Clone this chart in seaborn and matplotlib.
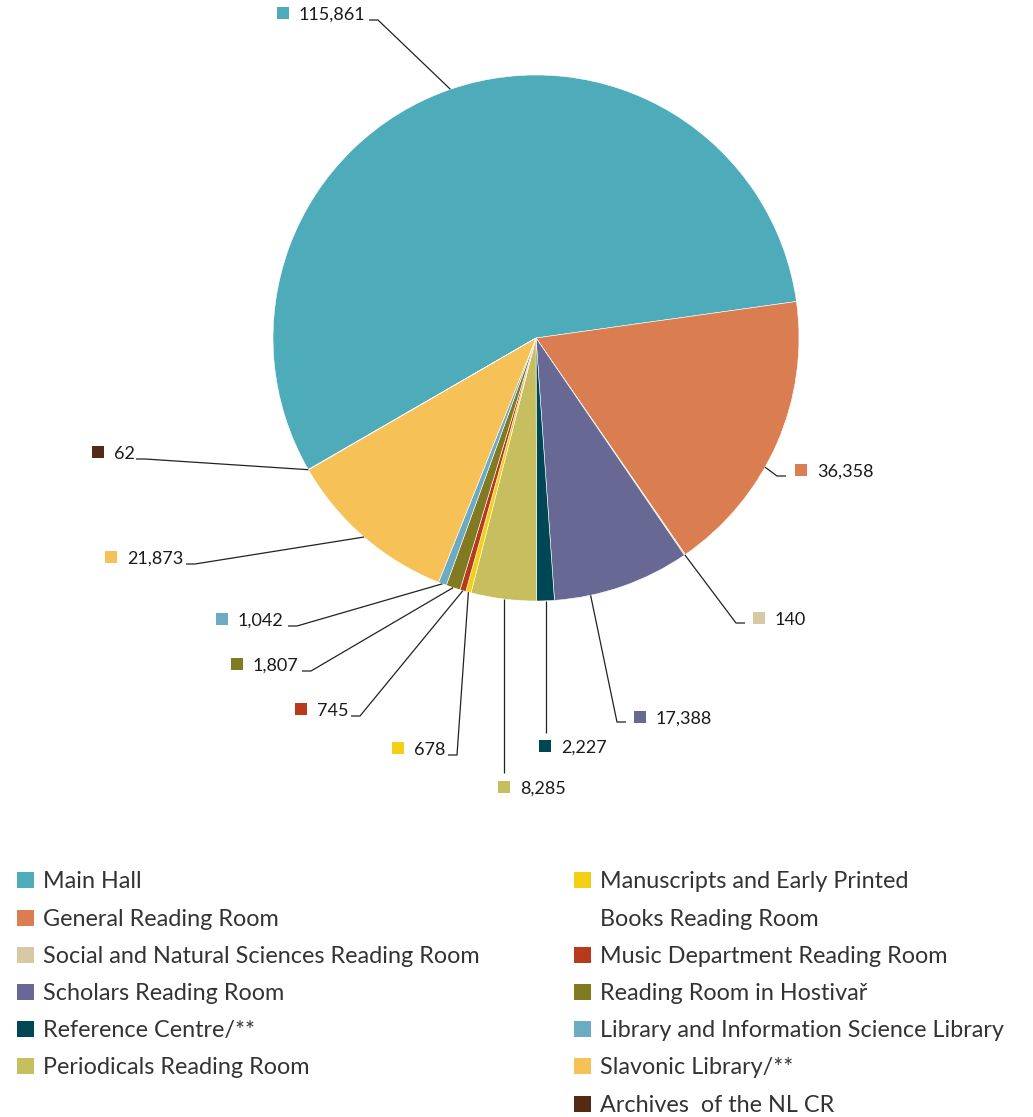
import matplotlib
matplotlib.use("Agg")
import numpy as np
import matplotlib.pyplot as plt
import seaborn as sns
from matplotlib.patches import Rectangle

# --- data -----------------------------------------------------------------
categories = [
    "Main Hall",
    "General Reading Room",
    "Social and Natural Sciences Reading Room",
    "Scholars Reading Room",
    "Reference Centre/**",
    "Periodicals Reading Room",
    "Manuscripts and Early Printed\nBooks Reading Room",
    "Music Department Reading Room",
    "Reading Room in Hostivař",
    "Library and Information Science Library",
    "Slavonic Library/**",
    "Archives  of the NL CR",
]
values = [115861, 36358, 140, 17388, 2227, 8285, 678, 745, 1807, 1042, 21873, 62]
colors = ["#4eabb9", "#da7e52", "#d6c9a3", "#676894", "#004756", "#c6be5f",
          "#f4cf14", "#b83a1b", "#827a20", "#6dabc4", "#f6c156", "#532a14"]

# --- label layout (figure pixels) ----------------------------------------
label_marker = [(283, 13), (801, 470), (759, 618), (640, 717), (545, 746), (504, 787),
                (398, 748), (301, 709), (237, 664), (222, 619), (111, 557), (98, 452)]
label_elbow = [(378, 20), (777, 476), (736, 623), (617, 722), (546, 733), (503, 773),
               (457, 755), (360, 716), (311, 671), (297, 626), (195, 564), (145, 459)]
label_side = ["left", "right", "right", "right", "bottom", "bottom",
              "left", "left", "left", "left", "left", "left"]
anchor_shift = [0, 5.7, 0, 7.2, 0, 0, 0, 0, 0, 0, 0, 0]

# legend: column, row for each category
legend_col = [0, 0, 0, 0, 0, 0, 1, 1, 1, 1, 1, 1]
legend_row = [0, 1, 2, 3, 4, 5, 0, 2, 3, 4, 5, 6]

sns.set_theme(style="white")
plt.rcParams['font.family'] = ['Lato', 'DejaVu Sans']

W, H = 1033, 1117
fig = plt.figure(figsize=(W / 100, H / 100), dpi=100)
ax = fig.add_axes([0, 0, 1, 1])

cx, cy, r = 536, 338, 263
wedges, _ = ax.pie(values, colors=colors, startangle=150, counterclock=True,
                   center=(cx, cy), radius=r,
                   wedgeprops=dict(edgecolor="white", linewidth=0.4))
ax.set_xlim(0, W)
ax.set_ylim(H, 0)
ax.set_aspect("equal")
ax.axis("off")

line_kw = dict(color="#222222", lw=0.9, solid_capstyle="butt")
for i, w in enumerate(wedges):
    th = np.deg2rad((w.theta1 + w.theta2) / 2 + anchor_shift[i])
    axp, ayp = cx + r * np.cos(th), cy + r * np.sin(th)
    ex, ey = label_elbow[i]
    side = label_side[i]
    if side == "left":
        ax.plot([axp, ex, ex - 9], [ayp, ey, ey], **line_kw)
    elif side == "right":
        ax.plot([axp, ex, ex + 9], [ayp, ey, ey], **line_kw)
    else:
        ax.plot([axp, axp], [ayp, ey], **line_kw)
    mx, my = label_marker[i]
    ax.add_patch(Rectangle((mx - 6, my - 6), 12, 12, color=colors[i], lw=0))
    ax.text(mx + 16, my + 7, f"{values[i]:,}", fontsize=13, color="#1a1a1a",
            ha="left", va="baseline")

# --- legend ---------------------------------------------------------------
col_x = [17, 574]
row_y0, row_dy = 880.3, 37.2
for i, cat in enumerate(categories):
    x = col_x[legend_col[i]]
    yc = row_y0 + legend_row[i] * row_dy
    ax.add_patch(Rectangle((x, yc - 8), 17, 16, color=colors[i], lw=0))
    for k, line in enumerate(cat.split("\n")):
        ax.text(x + 26, yc + 8 + k * row_dy, line, fontsize=16.8, color="#333333",
                ha="left", va="baseline")

fig.savefig("out.png", dpi=100, facecolor="white")
